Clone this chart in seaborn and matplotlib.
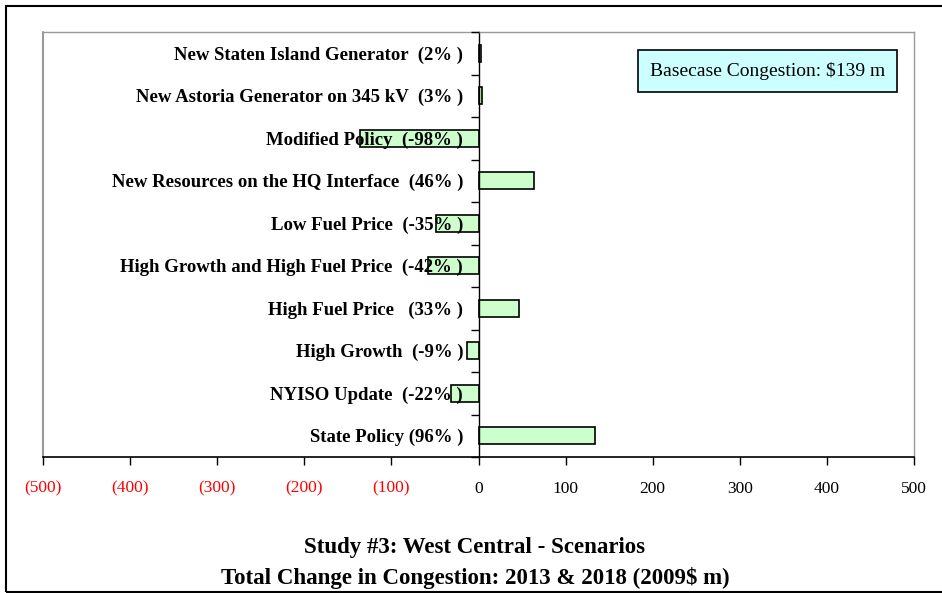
import matplotlib.pyplot as plt
import matplotlib.patches as mpatches
import pandas as pd
import seaborn as sns

# Data (2009$ m), top to bottom
scenarios = ['New Staten Island Generator  (2% )',
             'New Astoria Generator on 345 kV  (3% )',
             'Modified Policy  (-98% )',
             'New Resources on the HQ Interface  (46% )',
             'Low Fuel Price  (-35% )',
             'High Growth and High Fuel Price  (-42% )',
             'High Fuel Price   (33% )',
             'High Growth  (-9% )',
             'NYISO Update  (-22% )',
             'State Policy (96% )']
change = [3, 4, -136, 64, -49, -58, 46, -13, -31, 134]
xticks = [-500, -400, -300, -200, -100, 0, 100, 200, 300, 400, 500]
xlabels = ['(500)', '(400)', '(300)', '(200)', '(100)', '0', '100', '200', '300', '400', '500']
basecase = 'Basecase Congestion: $139 m'

df = pd.DataFrame({'scenario': scenarios, 'change': change})

sns.set_style('white')
plt.rcParams['font.family'] = ['Liberation Serif', 'DejaVu Serif']
plt.rcParams['text.color'] = 'black'
plt.rcParams['xtick.color'] = 'black'
plt.rcParams['ytick.color'] = 'black'

fig = plt.figure(figsize=(9.42, 5.93), dpi=100)
ax = fig.add_axes([43/942, 1-457/593, 871/942, 425/593])

sns.barplot(data=df, x='change', y='scenario', orient='h', ax=ax, color='#CCFFCC',
            saturation=1, edgecolor='black', linewidth=1.2, width=0.4, order=scenarios)
ax.set_axisbelow(False)

ax.set_xlim(-500, 500)
ax.set_ylim(9.5, -0.5)
ax.set_xlabel('')
ax.set_ylabel('')

# x axis
ax.set_xticks(xticks)
ax.set_xticklabels(xlabels, fontsize=12.5)
for lbl, v in zip(ax.get_xticklabels(), xticks):
    lbl.set_color('red' if v < 0 else 'black')
ax.tick_params(axis='x', direction='out', length=6, width=1, color='black', pad=11, bottom=True)

# y axis on the zero line
ax.spines['left'].set_position(('data', 0))
ax.spines['left'].set_color('black')
ax.spines['left'].set_linewidth(1)
ax.spines['bottom'].set_color('black')
ax.spines['bottom'].set_linewidth(1.2)
for s in ['top', 'right']:
    ax.spines[s].set_color('#999999')
    ax.spines[s].set_linewidth(1)
ax.set_yticks(range(len(scenarios)))
ax.set_yticklabels(scenarios, fontsize=13.5, fontweight='bold', color='black')
ax.tick_params(axis='y', length=0, pad=11)
ax.set_yticks([i + 0.5 for i in range(-1, len(scenarios))], minor=True)
ax.tick_params(axis='y', which='minor', direction='out', length=6, width=1, color='black', left=True)

# gray frame on the left side of the plot area
ax.plot([0, 0], [0, 1], transform=ax.transAxes, color='#999999', lw=1.5, clip_on=False)

ax.text(0.832, 0.908, basecase, transform=ax.transAxes, ha='center', va='center', fontsize=14,
        bbox=dict(boxstyle='square,pad=0.6', facecolor='#CCFFFF', edgecolor='black', linewidth=1.2))

fig.text(475/942, 1-547/593, 'Study #3: West Central - Scenarios', ha='center', va='center',
         fontsize=16.5, fontweight='bold')
fig.text(475/942, 1-578/593, 'Total Change in Congestion: 2013 & 2018 (2009$ m)', ha='center',
         va='center', fontsize=16.5, fontweight='bold')

# outer frame
fig.patches.append(mpatches.Rectangle((6/942, 1/593), 1.2, 586/593, transform=fig.transFigure,
                                      fill=False, edgecolor='black', linewidth=1.5))

fig.savefig('out.png', dpi=100)
